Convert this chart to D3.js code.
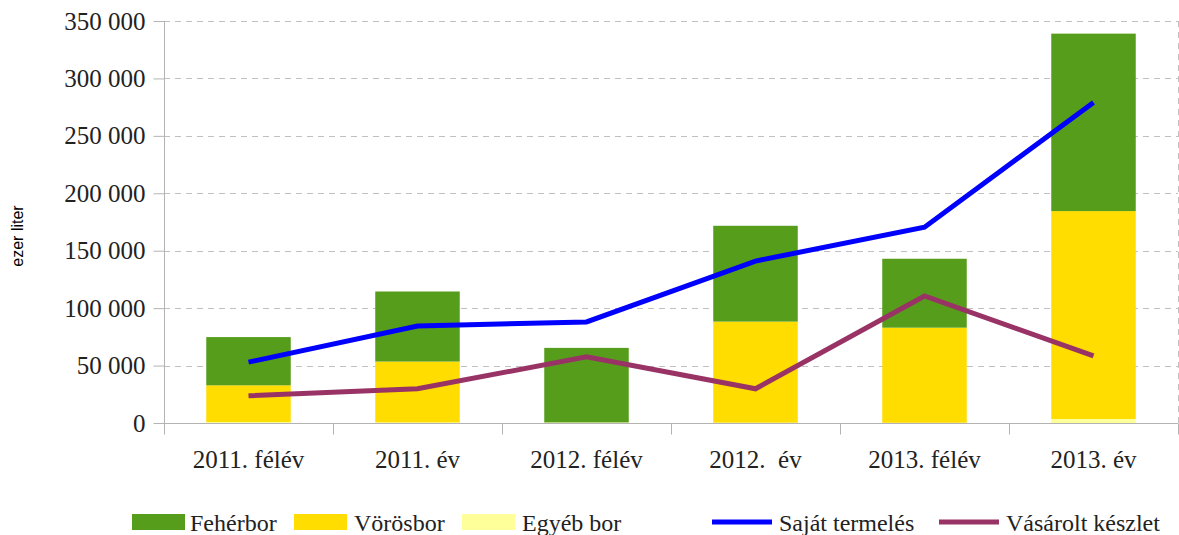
<!DOCTYPE html>
<html>
<head>
<meta charset="utf-8">
<script src="https://cdn.jsdelivr.net/npm/d3@7"></script>
<style>
  body { margin: 0; background: #fff; }
</style>
</head>
<body>
<div id="chart"></div>
<script>
const categories = ['2011. félév', '2011. év', '2012. félév', '2012.  év', '2013. félév', '2013. év'];
const feherbor = [42000, 61000, 64900, 83400, 60000, 154500];
const vorosbor = [32000, 53000, 0, 88000, 82800, 181000];
const egyebBor = [800, 500, 500, 300, 200, 3500];
const sajatTermeles = [53000, 84500, 88000, 141000, 170500, 279000];
const vasaroltKeszlet = [23700, 29800, 57600, 29800, 110600, 58500];
const yTicks = [0, 50000, 100000, 150000, 200000, 250000, 300000, 350000];

const width = 1179;
const height = 535;
const plotLeft = 164, plotRight = 1178, plotTop = 21, plotBottom = 423;
const serif = "'Liberation Serif', 'Times New Roman', 'DejaVu Serif', serif";

const svg = d3.select('#chart')
    .append('svg')
    .attr('width', width)
    .attr('height', height);

const xScale = d3.scaleBand()
    .domain(categories)
    .range([plotLeft, plotRight])
    .padding(0);

const yScale = d3.scaleLinear()
    .domain([0, 350000])
    .range([plotBottom, plotTop]);

const fmt = v => d3.format(',')(v).replace(/,/g, ' ');

// grid
svg.append('g')
    .selectAll('line')
    .data(yTicks.filter(d => d > 0))
    .enter()
    .append('line')
    .attr('x1', plotLeft)
    .attr('x2', plotRight)
    .attr('y1', d => Math.round(yScale(d)) + 0.5)
    .attr('y2', d => Math.round(yScale(d)) + 0.5)
    .attr('stroke', '#c0c0c0')
    .attr('stroke-width', 1)
    .attr('stroke-dasharray', '6,5');

svg.append('line')
    .attr('x1', plotRight + 0.5)
    .attr('x2', plotRight + 0.5)
    .attr('y1', plotTop)
    .attr('y2', plotBottom + 11)
    .attr('stroke', '#c0c0c0')
    .attr('stroke-dasharray', '6,5');

// bars
const rows = categories.map((c, i) => ({ cat: c, egyeb: egyebBor[i], voros: vorosbor[i], feher: feherbor[i] }));
const stack = d3.stack().keys(['egyeb', 'voros', 'feher'])(rows);
const colors = { feher: '#579d1c', voros: '#ffdd00', egyeb: '#ffff99' };

svg.append('g')
    .selectAll('g')
    .data(stack)
    .enter()
    .append('g')
    .attr('fill', s => colors[s.key])
    .selectAll('rect')
    .data(s => s)
    .enter()
    .append('rect')
    .attr('x', d => xScale(d.data.cat) + xScale.bandwidth() * 0.25)
    .attr('width', xScale.bandwidth() * 0.5)
    .attr('y', d => yScale(d[1]))
    .attr('height', d => yScale(d[0]) - yScale(d[1]));

// axes
const yAxis = d3.axisLeft(yScale)
    .tickValues(yTicks)
    .tickFormat(fmt)
    .tickSize(11)
    .tickPadding(8);

const yg = svg.append('g')
    .attr('transform', `translate(${plotLeft + 0.5}, 0)`)
    .call(yAxis)
    .attr('font-family', serif)
    .attr('font-size', 25);
yg.select('.domain').remove();
yg.append('line').attr('y1', plotTop).attr('y2', plotBottom + 11).attr('stroke', '#b3b3b3');
yg.selectAll('.tick line').attr('stroke', '#b3b3b3');
yg.selectAll('.tick text').attr('fill', '#222');

const xAxis = d3.axisBottom(xScale).tickSize(0).tickPadding(0);
const xg = svg.append('g')
    .attr('transform', `translate(0, ${plotBottom + 0.5})`)
    .call(xAxis)
    .attr('font-family', serif)
    .attr('font-size', 25);
xg.select('.domain').remove();
xg.append('line').attr('x1', plotLeft).attr('x2', plotRight).attr('stroke', '#b3b3b3');
xg.selectAll('.tick text')
    .attr('y', 44)
    .attr('dy', 0)
    .attr('fill', '#222')
    .style('white-space', 'pre');
xg.selectAll('.sep')
    .data(categories.concat(['end']))
    .enter()
    .append('line')
    .attr('x1', (d, i) => Math.round(plotLeft + i * xScale.bandwidth()) + 0.5)
    .attr('x2', (d, i) => Math.round(plotLeft + i * xScale.bandwidth()) + 0.5)
    .attr('y1', 0)
    .attr('y2', 11)
    .attr('stroke', '#b3b3b3');

// lines
const line = d3.line()
    .x((d, i) => xScale(categories[i]) + xScale.bandwidth() / 2)
    .y(d => yScale(d));

svg.append('path')
    .datum(sajatTermeles)
    .attr('d', line)
    .attr('fill', 'none')
    .attr('stroke', '#0000ff')
    .attr('stroke-width', 5);

svg.append('path')
    .datum(vasaroltKeszlet)
    .attr('d', line)
    .attr('fill', 'none')
    .attr('stroke', '#993366')
    .attr('stroke-width', 5);

// y title
svg.append('text')
    .attr('transform', 'translate(23, 236) rotate(-90)')
    .attr('text-anchor', 'middle')
    .attr('font-family', "'Liberation Sans', Arial, sans-serif")
    .attr('font-size', 16)
    .attr('fill', '#000')
    .text('ezer liter');

// legend
const legendItems = [
    { label: 'Fehérbor', color: colors.feher, type: 'rect', x: 132, tx: 190 },
    { label: 'Vörösbor', color: colors.voros, type: 'rect', x: 294, tx: 354 },
    { label: 'Egyéb bor', color: colors.egyeb, type: 'rect', x: 462, tx: 522 },
    { label: 'Saját termelés', color: '#0000ff', type: 'line', x: 712, tx: 779 },
    { label: 'Vásárolt készlet', color: '#993366', type: 'line', x: 939, tx: 1006 }
];

const legend = svg.append('g')
    .attr('id', 'legend')
    .attr('font-family', serif)
    .attr('font-size', 24);
legendItems.forEach(d => {
    if (d.type === 'rect') {
        legend.append('rect')
            .attr('x', d.x).attr('y', 514)
            .attr('width', 53).attr('height', 16)
            .attr('fill', d.color);
    } else {
        legend.append('line')
            .attr('x1', d.x).attr('x2', d.x + 60)
            .attr('y1', 522).attr('y2', 522)
            .attr('stroke', d.color).attr('stroke-width', 5);
    }
    legend.append('text')
        .attr('x', d.tx).attr('y', 531)
        .attr('fill', '#222')
        .text(d.label);
});
</script>
</body>
</html>
